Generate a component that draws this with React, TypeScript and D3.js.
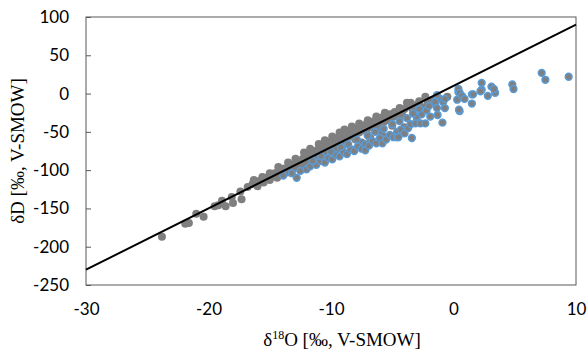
import React, { useEffect, useRef } from 'react';
import * as d3 from 'd3';

// grey series: [δ18O, δD]
const greyPoints: [number, number][] = [
  [-23.8, -187], [-21.9, -170], [-21.6, -169], [-21.0, -157], [-20.4, -161],
  [-19.5, -147], [-19.2, -146], [-18.9, -140], [-18.6, -147], [-18.1, -135],
  [-18.0, -143], [-17.4, -128], [-17.3, -138], [-16.8, -122], [-16.4, -118],
  [-16.0, -121], [-15.8, -114], [-15.5, -116], [-15.3, -110], [-15.0, -113],
  [-14.8, -108], [-14.6, -104], [-14.4, -110], [-14.2, -100], [-14.0, -106],
  [-13.8, -98], [-13.6, -103], [-13.4, -95], [-13.2, -100], [-13.0, -92],
  [-12.8, -97], [-12.6, -88], [-12.5, -94], [-12.3, -85], [-12.1, -90],
  [-12.0, -80], [-11.8, -87], [-11.6, -78], [-11.5, -84], [-11.3, -75],
  [-11.2, -81], [-11.0, -72], [-10.9, -78], [-10.7, -70], [-10.6, -76],
  [-10.4, -66], [-10.3, -73], [-10.1, -63], [-10.0, -69], [-9.8, -60],
  [-9.7, -66], [-9.5, -58], [-9.4, -63], [-9.2, -55], [-9.1, -61],
  [-9.0, -67], [-8.8, -52], [-8.7, -58], [-8.5, -50], [-8.4, -56],
  [-8.2, -47], [-8.1, -53], [-8.0, -60], [-7.8, -45], [-7.7, -51],
  [-7.5, -43], [-7.4, -48], [-7.2, -41], [-7.1, -47], [-7.0, -54],
  [-6.8, -38], [-6.7, -44], [-6.5, -36], [-6.4, -42], [-6.2, -33],
  [-6.1, -39], [-6.0, -48], [-5.8, -31], [-5.7, -37], [-5.5, -29],
  [-5.4, -35], [-5.2, -27], [-5.1, -33], [-5.0, -42], [-4.8, -24],
  [-4.6, -30], [-4.4, -19], [-4.2, -28], [-4.0, -20], [-3.8, -12],
  [-3.6, -17], [-3.5, -12], [-3.3, -22], [-3.0, -15], [-2.8, -10],
  [-2.5, -18], [-2.3, -4], [-2.1, -12], [-1.7, -8], [-1.5, -14],
  [-1.2, -6], [-0.85, -8], [-0.5, -4],
  [-11.5, -92], [-10.6, -85], [-9.5, -72], [-8.3, -73], [-7.5, -64],
  [-6.8, -58], [-5.8, -55], [-4.6, -52], [-4.0, -44], [-3.0, -35],
  [-15.0, -104], [-14.3, -96], [-13.5, -90], [-12.9, -85], [-12.2, -77],
  [-11.7, -72], [-11.0, -66], [-10.5, -61], [-9.9, -56], [-9.3, -51],
  [-8.9, -47], [-8.3, -43], [-7.7, -39], [-7.0, -35], [-6.3, -30],
  [-5.6, -25], [-16.3, -113], [-15.6, -109]
];

// blue series: [δ18O, δD]
const bluePoints: [number, number][] = [
  [-13.9, -107], [-12.8, -110], [-13.2, -104], [-12.5, -101], [-12.0, -99],
  [-11.7, -95], [-11.2, -93], [-10.9, -88], [-10.5, -90], [-10.2, -84],
  [-9.9, -86], [-9.6, -80], [-9.3, -82], [-9.0, -76], [-8.7, -79],
  [-8.4, -73], [-8.1, -75], [-7.8, -69], [-7.5, -72], [-7.2, -66],
  [-7.2, -74], [-6.9, -68], [-6.6, -62], [-6.3, -65], [-6.0, -58],
  [-5.8, -65], [-5.5, -60], [-5.2, -54], [-4.9, -57], [-4.6, -50],
  [-4.6, -57], [-4.3, -47], [-4.0, -52], [-3.7, -45], [-3.5, -40],
  [-3.4, -58], [-4.5, -57], [-3.1, -39], [-2.7, -39], [-2.3, -39],
  [-3.0, -30], [-2.6, -27], [-2.2, -22], [-1.9, -30], [-1.5, -11],
  [-1.35, -2], [-1.35, -19], [-1.3, -28], [-0.9, -38], [-0.85, -11],
  [-0.7, -19], [-0.7, -7], [0.3, -8], [0.4, 2], [0.4, 6],
  [0.5, -23], [0.45, -21], [0.5, 1], [0.7, -3], [0.9, -7],
  [1.5, -13], [1.5, -1], [1.6, -1], [2.3, 14], [2.3, 5],
  [2.2, 3], [2.8, -3], [3.1, 9], [3.4, 1], [3.3, 6],
  [4.8, 12], [4.9, 6], [7.2, 27], [7.5, 18], [9.4, 22],
  [-11.5, -88], [-10.8, -82], [-10.0, -76], [-9.2, -70], [-8.6, -66],
  [-7.9, -60], [-7.0, -55], [-6.4, -50], [-5.7, -46], [-5.0, -40],
  [-4.4, -36], [-3.8, -32], [-3.3, -26], [-2.8, -20], [-2.0, -16]
];

// meteoric water line end points
const lineX = [-30, 10];
const lineY = [-230, 90];

const xTicks = [-30, -20, -10, 0, 10];
const yTicks = [100, 50, 0, -50, -100, -150, -200, -250];

const W = 587;
const H = 350;

const App = () => {
  const ref = useRef<SVGSVGElement>(null);

  useEffect(() => {
    document.body.style.margin = '0';
    const svg = d3.select(ref.current);
    svg.selectAll('*').remove();

    const margin = { top: 17, right: 11, bottom: 65, left: 86 };
    const x = d3.scaleLinear().domain([-30, 10]).range([margin.left, W - margin.right]);
    const y = d3.scaleLinear().domain([-250, 100]).range([H - margin.bottom, margin.top]);

    // frame
    svg.append('rect')
      .attr('x', x(-30))
      .attr('y', y(100))
      .attr('width', x(10) - x(-30))
      .attr('height', y(-250) - y(100))
      .attr('fill', 'none')
      .attr('stroke', '#595959')
      .attr('stroke-width', 1);

    // y axis (ticks point inward)
    const yAxis = svg.append('g')
      .attr('transform', `translate(${x(-30)},0)`)
      .call(d3.axisRight(y).tickValues(yTicks).tickSize(5).tickFormat(d => `${d}`));
    yAxis.select('.domain').remove();
    yAxis.selectAll('line').attr('stroke', '#595959');
    yAxis.selectAll('text')
      .attr('x', -17)
      .attr('text-anchor', 'end')
      .attr('font-family', 'Lato, sans-serif')
      .attr('font-size', 17)
      .attr('fill', '#000');

    // x axis labels
    const xAxis = svg.append('g')
      .attr('transform', `translate(0,${y(-250)})`)
      .call(d3.axisBottom(x).tickValues(xTicks).tickSize(0).tickFormat(d => `${d}`));
    xAxis.select('.domain').remove();
    xAxis.selectAll('text')
      .attr('y', 18)
      .attr('font-family', 'Lato, sans-serif')
      .attr('font-size', 17)
      .attr('fill', '#000');

    // points
    svg.append('g')
      .selectAll('circle')
      .data(greyPoints)
      .enter()
      .append('circle')
      .attr('cx', d => x(d[0]))
      .attr('cy', d => y(d[1]))
      .attr('r', 4)
      .attr('fill', '#7f7f7f');

    svg.append('g')
      .selectAll('circle')
      .data(bluePoints)
      .enter()
      .append('circle')
      .attr('cx', d => x(d[0]))
      .attr('cy', d => y(d[1]))
      .attr('r', 3.4)
      .attr('fill', '#7f7f7f')
      .attr('stroke', '#5b9bd5')
      .attr('stroke-width', 1.5);

    // GMWL
    svg.append('line')
      .attr('x1', x(lineX[0]))
      .attr('y1', y(lineY[0]))
      .attr('x2', x(lineX[1]))
      .attr('y2', y(lineY[1]))
      .attr('stroke', '#000')
      .attr('stroke-width', 2);

    // axis titles
    const xt = svg.append('text')
      .attr('x', 342)
      .attr('y', 346)
      .attr('text-anchor', 'middle')
      .attr('font-family', '"Liberation Serif", serif')
      .attr('font-size', 19)
      .attr('fill', '#000');
    xt.append('tspan').text('δ');
    xt.append('tspan').attr('dy', -7).attr('font-size', 12).text('18');
    xt.append('tspan').attr('dy', 7).text('O [‰, V-SMOW]');

    svg.append('text')
      .attr('transform', `translate(24,${(y(100) + y(-250)) / 2}) rotate(-90)`)
      .attr('text-anchor', 'middle')
      .attr('font-family', '"Liberation Serif", serif')
      .attr('font-size', 19)
      .attr('fill', '#000')
      .text('δD [‰, V-SMOW]');
  }, []);

  return <svg ref={ref} width={W} height={H} style={{ display: 'block' }} />;
};

export default App;
